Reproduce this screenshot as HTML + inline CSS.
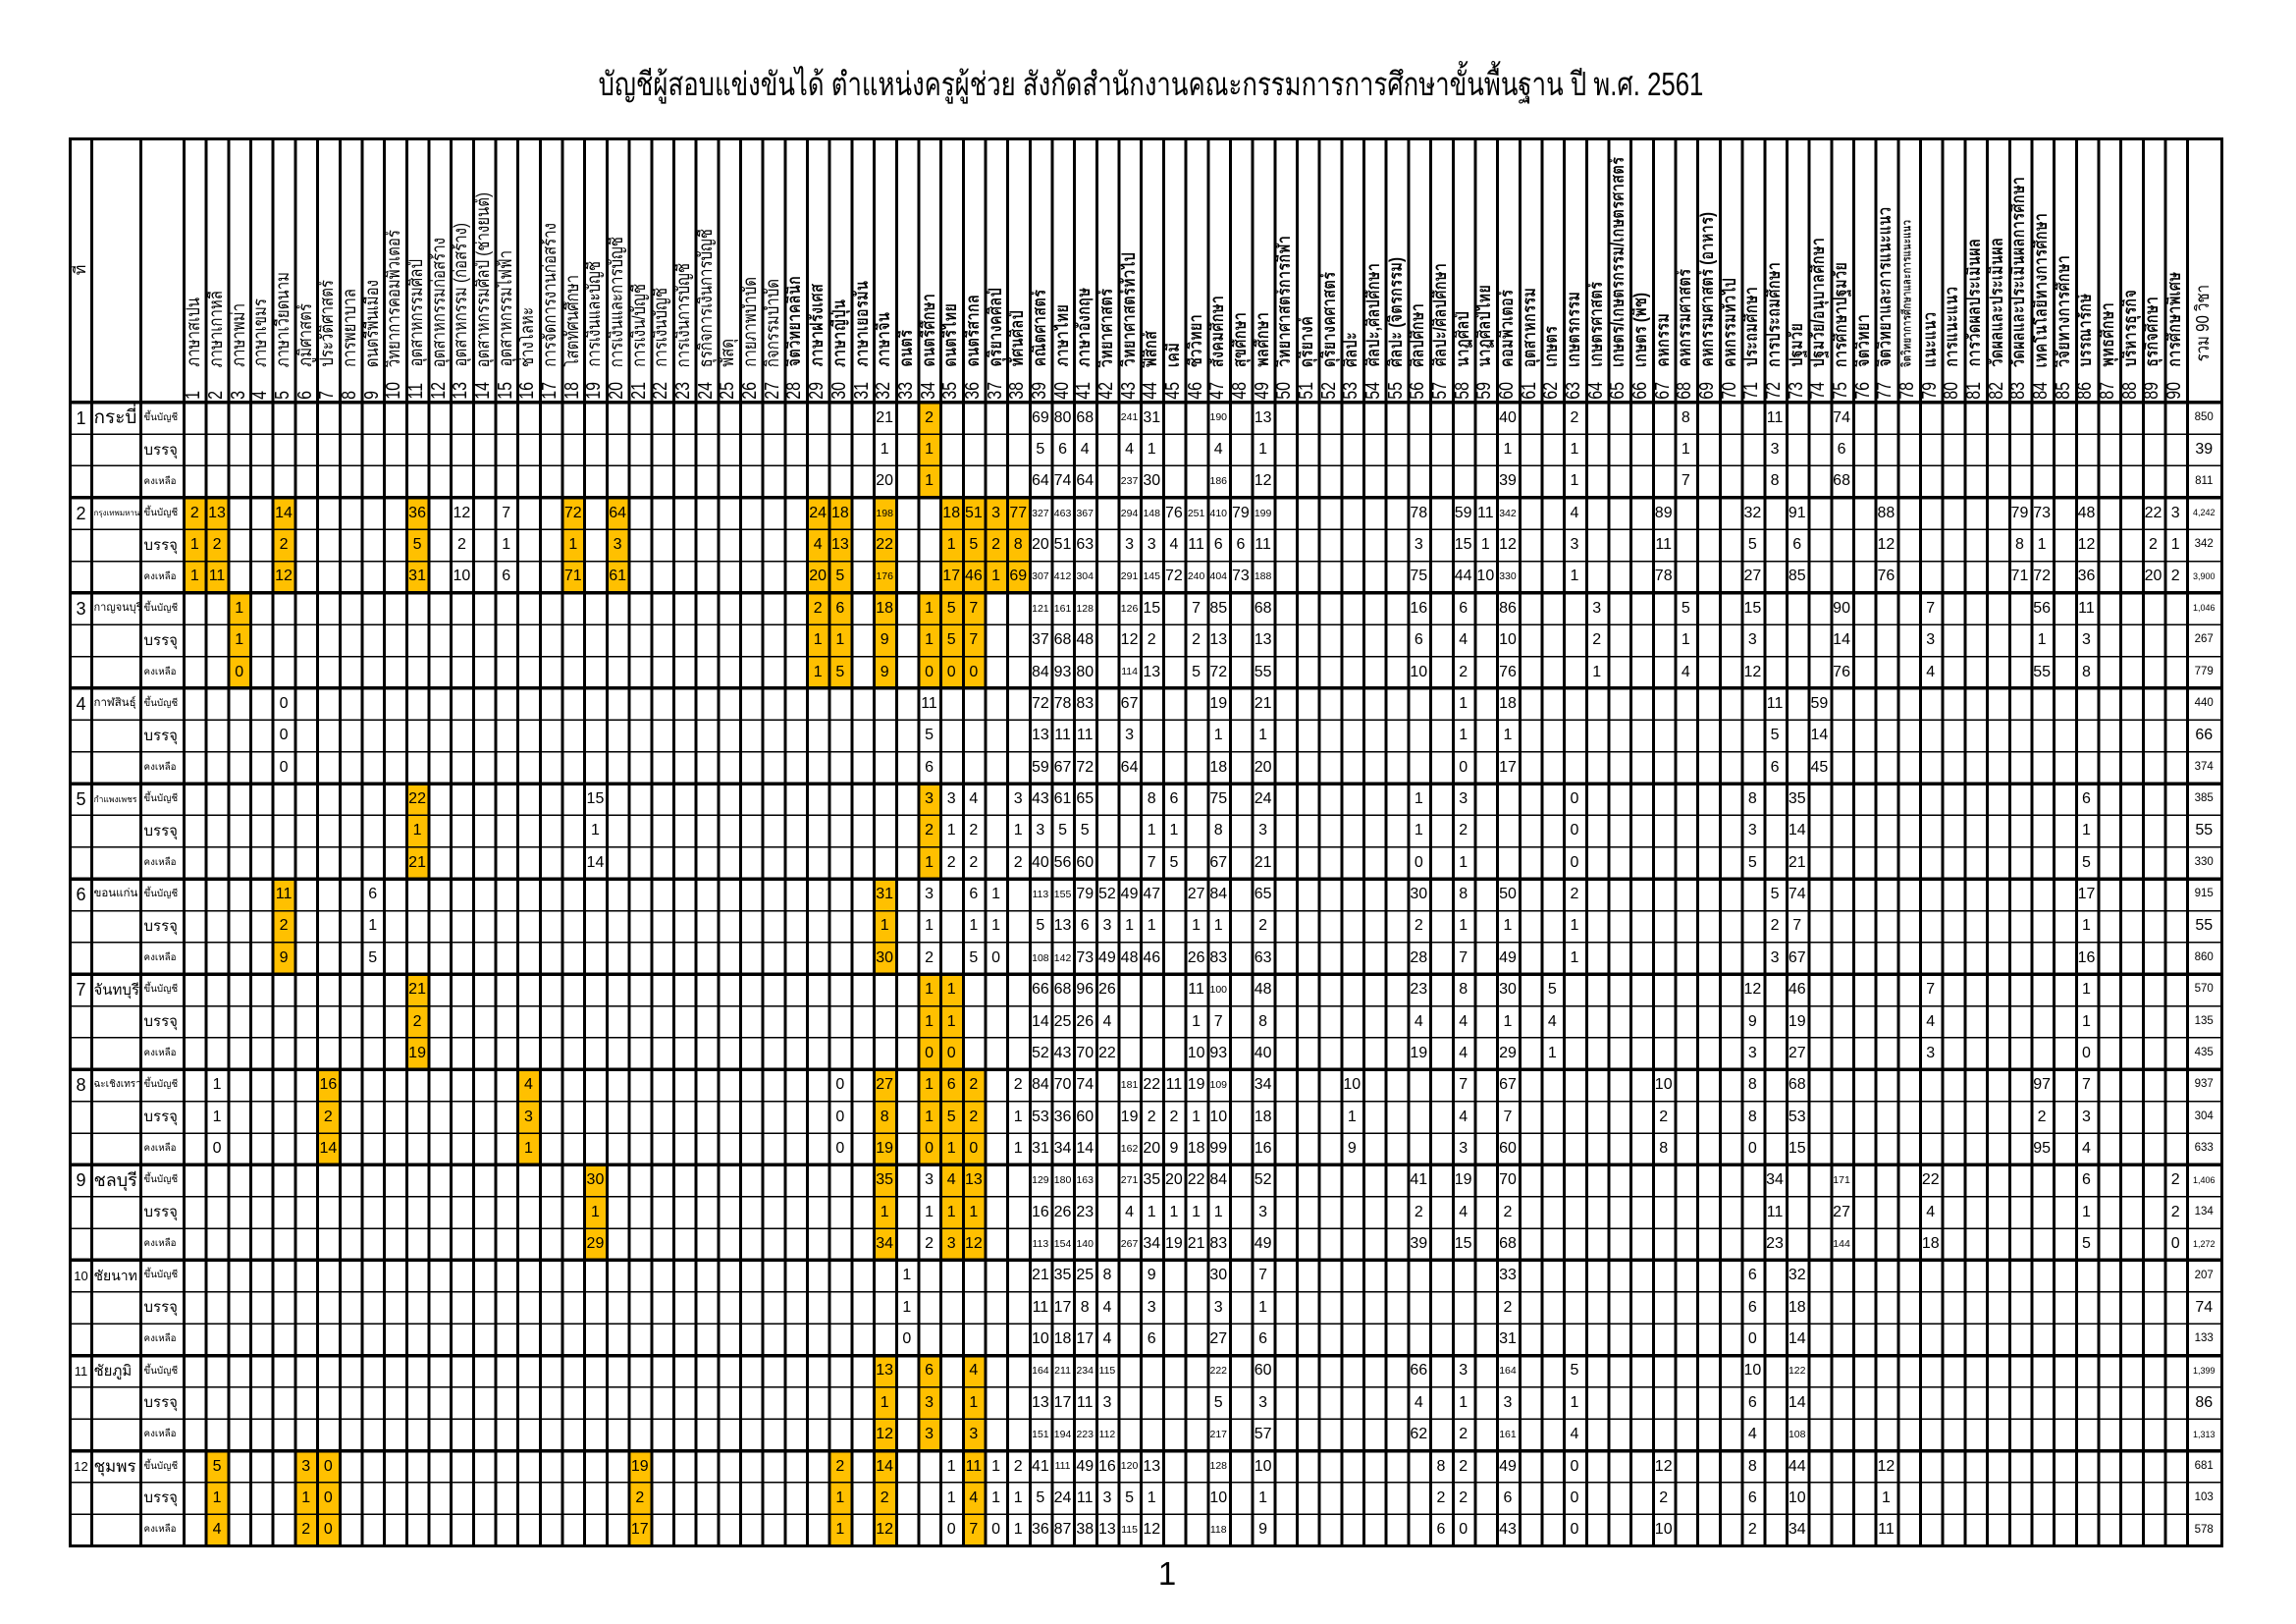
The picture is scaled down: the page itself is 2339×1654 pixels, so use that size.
<!DOCTYPE html>
<html><head><meta charset="utf-8"><style>
html,body{margin:0;padding:0;background:#fff}
body{width:2339px;height:1654px;position:relative;overflow:hidden;font-family:"Liberation Sans","Loma","Garuda","Noto Sans Thai","DejaVu Sans",sans-serif;color:#000}
.title{position:absolute;left:3px;width:2339px;top:66px;text-align:center;font-size:33px;line-height:40px;white-space:nowrap;transform:scaleX(0.78)}
.pg{position:absolute;left:1169px;width:40px;top:1583px;text-align:center;font-size:33px;line-height:40px}
table{position:absolute;left:71.5px;top:141px;width:2191.5px;table-layout:fixed;border-collapse:collapse;border-spacing:0}
td{padding:0;text-align:center;vertical-align:middle;font-size:16px;line-height:1;white-space:nowrap;overflow:hidden}
tr{height:32.36px}
tr.h1{height:236px}
tr.h2{height:32.5px}
.h td{position:relative;vertical-align:bottom}
.h i{position:absolute;left:50%;bottom:3px;writing-mode:vertical-rl;transform:translateX(-50%) rotate(180deg) scaleX(1.25);font-style:normal;font-size:15px;line-height:16px;font-weight:bold;white-space:nowrap}
.h i.l{font-weight:normal}
.h2 i{font-weight:normal!important;bottom:3px;font-size:16px!important}
.h i.c0{top:50%;bottom:auto;transform:translate(-50%,-50%) rotate(180deg);font-weight:normal;font-size:16px}
.h i.sm{font-size:10px}
td:last-child{font-size:11.5px}
td.b{font-size:16px}
td.t{font-size:9px}
.y,.ys{background:#ffc000}
.s,.ys{font-size:10.5px}
.n{font-size:18px}
.n2{font-size:13px}
.p{text-align:left;padding-left:2px;font-size:19px}
.k{text-align:left;padding-left:3px;font-size:9.8px}
.k2{font-size:15px}
.g{position:absolute;background:#000}
</style></head><body>
<div class="title">บัญชีผู้สอบแข่งขันได้ ตำแหน่งครูผู้ช่วย สังกัดสำนักงานคณะกรรมการการศึกษาขั้นพื้นฐาน ปี พ.ศ. 2561</div>
<table>
<colgroup><col style="width:22px"><col style="width:50px"><col style="width:43.5px"><col span="90" style="width:22.68px"><col style="width:34.8px"></colgroup>
<tr class="h h1"><td rowspan=2><i class=c0>ที่</i></td><td rowspan=2></td><td rowspan=2></td>
<td><i class=l>ภาษาสเปน</i><td><i class=l>ภาษาเกาหลี</i><td><i class=l>ภาษาพม่า</i><td><i class=l>ภาษาเขมร</i><td><i class=l>ภาษาเวียดนาม</i><td><i class=l>ภูมิศาสตร์</i><td><i class=l>ประวัติศาสตร์</i><td><i class=l>การพยาบาล</i><td><i class=l>ดนตรีพื้นเมือง</i><td><i class=l>วิทยาการคอมพิวเตอร์</i><td><i class=l>อุตสาหกรรมศิลป์</i><td><i class=l>อุตสาหกรรมก่อสร้าง</i><td><i class=l>อุตสาหกรรม (ก่อสร้าง)</i><td><i class=l>อุตสาหกรรมศิลป์ (ช่างยนต์)</i><td><i class=l>อุตสาหกรรมไฟฟ้า</i><td><i class=l>ช่างโลหะ</i><td><i class=l>การจัดการงานก่อสร้าง</i><td><i class=l>โสตทัศนศึกษา</i><td><i class=l>การเงินและบัญชี</i><td><i class=l>การเงินและการบัญชี</i><td><i class=l>การเงิน/บัญชี</i><td><i class=l>การเงินบัญชี</i><td><i class=l>การเงินการบัญชี</i><td><i class=l>ธุรกิจการเงินการบัญชี</i><td><i class=l>พัสดุ</i><td><i class=l>กายภาพบำบัด</i><td><i class=l>กิจกรรมบำบัด</i><td><i>จิตวิทยาคลินิก</i><td><i>ภาษาฝรั่งเศส</i><td><i>ภาษาญี่ปุ่น</i><td><i>ภาษาเยอรมัน</i><td><i>ภาษาจีน</i><td><i>ดนตรี</i><td><i>ดนตรีศึกษา</i><td><i>ดนตรีไทย</i><td><i>ดนตรีสากล</i><td><i>ดุริยางคศิลป์</i><td><i>ทัศนศิลป์</i><td><i>คณิตศาสตร์</i><td><i>ภาษาไทย</i><td><i>ภาษาอังกฤษ</i><td><i>วิทยาศาสตร์</i><td><i>วิทยาศาสตร์ทั่วไป</i><td><i>ฟิสิกส์</i><td><i>เคมี</i><td><i>ชีววิทยา</i><td><i>สังคมศึกษา</i><td><i>สุขศึกษา</i><td><i>พลศึกษา</i><td><i>วิทยาศาสตร์การกีฬา</i><td><i>ดุริยางค์</i><td><i>ดุริยางคศาสตร์</i><td><i>ศิลปะ</i><td><i>ศิลปะ,ศิลปศึกษา</i><td><i>ศิลปะ (จิตรกรรม)</i><td><i>ศิลปศึกษา</i><td><i>ศิลปะ/ศิลปศึกษา</i><td><i>นาฏศิลป์</i><td><i>นาฏศิลป์ไทย</i><td><i>คอมพิวเตอร์</i><td><i>อุตสาหกรรม</i><td><i>เกษตร</i><td><i>เกษตรกรรม</i><td><i>เกษตรศาสตร์</i><td><i>เกษตร/เกษตรกรรม/เกษตรศาสตร์</i><td><i>เกษตร (พืช)</i><td><i>คหกรรม</i><td><i>คหกรรมศาสตร์</i><td><i>คหกรรมศาสตร์ (อาหาร)</i><td><i>คหกรรมทั่วไป</i><td><i>ประถมศึกษา</i><td><i>การประถมศึกษา</i><td><i>ปฐมวัย</i><td><i>ปฐมวัย/อนุบาลศึกษา</i><td><i>การศึกษาปฐมวัย</i><td><i>จิตวิทยา</i><td><i>จิตวิทยาและการแนะแนว</i><td><i class=sm>จิตวิทยาการศึกษาและการแนะแนว</i><td><i>แนะแนว</i><td><i>การแนะแนว</i><td><i>การวัดผลประเมินผล</i><td><i>วัดผลและประเมินผล</i><td><i>วัดผลและประเมินผลการศึกษา</i><td><i>เทคโนโลยีทางการศึกษา</i><td><i>วิจัยทางการศึกษา</i><td><i>บรรณารักษ์</i><td><i>พุทธศึกษา</i><td><i>บริหารธุรกิจ</i><td><i>ธุรกิจศึกษา</i><td><i>การศึกษาพิเศษ</i><td><i class=l style="bottom:9px">รวม 90 วิชา</i></td></tr>
<tr class="h h2"><td><i>1</i><td><i>2</i><td><i>3</i><td><i>4</i><td><i>5</i><td><i>6</i><td><i>7</i><td><i>8</i><td><i>9</i><td><i>10</i><td><i>11</i><td><i>12</i><td><i>13</i><td><i>14</i><td><i>15</i><td><i>16</i><td><i>17</i><td><i>18</i><td><i>19</i><td><i>20</i><td><i>21</i><td><i>22</i><td><i>23</i><td><i>24</i><td><i>25</i><td><i>26</i><td><i>27</i><td><i>28</i><td><i>29</i><td><i>30</i><td><i>31</i><td><i>32</i><td><i>33</i><td><i>34</i><td><i>35</i><td><i>36</i><td><i>37</i><td><i>38</i><td><i>39</i><td><i>40</i><td><i>41</i><td><i>42</i><td><i>43</i><td><i>44</i><td><i>45</i><td><i>46</i><td><i>47</i><td><i>48</i><td><i>49</i><td><i>50</i><td><i>51</i><td><i>52</i><td><i>53</i><td><i>54</i><td><i>55</i><td><i>56</i><td><i>57</i><td><i>58</i><td><i>59</i><td><i>60</i><td><i>61</i><td><i>62</i><td><i>63</i><td><i>64</i><td><i>65</i><td><i>66</i><td><i>67</i><td><i>68</i><td><i>69</i><td><i>70</i><td><i>71</i><td><i>72</i><td><i>73</i><td><i>74</i><td><i>75</i><td><i>76</i><td><i>77</i><td><i>78</i><td><i>79</i><td><i>80</i><td><i>81</i><td><i>82</i><td><i>83</i><td><i>84</i><td><i>85</i><td><i>86</i><td><i>87</i><td><i>88</i><td><i>89</i><td><i>90</i><td></td></tr>

<tr><td class=n>1<td class=p style="font-size:19px">กระบี่<td class=k>ขึ้นบัญชี<td colspan=31><td>21<td><td class=y>2<td colspan=4><td>69<td>80<td>68<td><td class=s>241<td>31<td colspan=2><td class=s>190<td><td>13<td colspan=10><td>40<td colspan=2><td>2<td colspan=4><td>8<td colspan=3><td>11<td colspan=2><td>74<td colspan=15><td>850</tr>
<tr><td><td><td class="k k2">บรรจุ<td colspan=31><td>1<td><td class=y>1<td colspan=4><td>5<td>6<td>4<td><td>4<td>1<td colspan=2><td>4<td><td>1<td colspan=10><td>1<td colspan=2><td>1<td colspan=4><td>1<td colspan=3><td>3<td colspan=2><td>6<td colspan=15><td class=b>39</tr>
<tr><td><td><td class=k>คงเหลือ<td colspan=31><td>20<td><td class=y>1<td colspan=4><td>64<td>74<td>64<td><td class=s>237<td>30<td colspan=2><td class=s>186<td><td>12<td colspan=10><td>39<td colspan=2><td>1<td colspan=4><td>7<td colspan=3><td>8<td colspan=2><td>68<td colspan=15><td>811</tr>

<tr><td class=n>2<td class=p style="font-size:8px">กรุงเทพมหานคร<td class=k>ขึ้นบัญชี<td class=y>2<td class=y>13<td colspan=2><td class=y>14<td colspan=5><td class=y>36<td><td>12<td><td>7<td colspan=2><td class=y>72<td><td class=y>64<td colspan=8><td class=y>24<td class=y>18<td><td class=ys>198<td colspan=2><td class=y>18<td class=y>51<td class=y>3<td class=y>77<td class=s>327<td class=s>463<td class=s>367<td><td class=s>294<td class=s>148<td>76<td class=s>251<td class=s>410<td>79<td class=s>199<td colspan=6><td>78<td><td>59<td>11<td class=s>342<td colspan=2><td>4<td colspan=3><td>89<td colspan=3><td>32<td><td>91<td colspan=3><td>88<td colspan=5><td>79<td>73<td><td>48<td colspan=2><td>22<td>3<td class=t>4,242</tr>
<tr><td><td><td class="k k2">บรรจุ<td class=y>1<td class=y>2<td colspan=2><td class=y>2<td colspan=5><td class=y>5<td><td>2<td><td>1<td colspan=2><td class=y>1<td><td class=y>3<td colspan=8><td class=y>4<td class=y>13<td><td class=y>22<td colspan=2><td class=y>1<td class=y>5<td class=y>2<td class=y>8<td>20<td>51<td>63<td><td>3<td>3<td>4<td>11<td>6<td>6<td>11<td colspan=6><td>3<td><td>15<td>1<td>12<td colspan=2><td>3<td colspan=3><td>11<td colspan=3><td>5<td><td>6<td colspan=3><td>12<td colspan=5><td>8<td>1<td><td>12<td colspan=2><td>2<td>1<td>342</tr>
<tr><td><td><td class=k>คงเหลือ<td class=y>1<td class=y>11<td colspan=2><td class=y>12<td colspan=5><td class=y>31<td><td>10<td><td>6<td colspan=2><td class=y>71<td><td class=y>61<td colspan=8><td class=y>20<td class=y>5<td><td class=ys>176<td colspan=2><td class=y>17<td class=y>46<td class=y>1<td class=y>69<td class=s>307<td class=s>412<td class=s>304<td><td class=s>291<td class=s>145<td>72<td class=s>240<td class=s>404<td>73<td class=s>188<td colspan=6><td>75<td><td>44<td>10<td class=s>330<td colspan=2><td>1<td colspan=3><td>78<td colspan=3><td>27<td><td>85<td colspan=3><td>76<td colspan=5><td>71<td>72<td><td>36<td colspan=2><td>20<td>2<td class=t>3,900</tr>

<tr><td class=n>3<td class=p style="font-size:11px">กาญจนบุรี<td class=k>ขึ้นบัญชี<td colspan=2><td class=y>1<td colspan=25><td class=y>2<td class=y>6<td><td class=y>18<td><td class=y>1<td class=y>5<td class=y>7<td colspan=2><td class=s>121<td class=s>161<td class=s>128<td><td class=s>126<td>15<td><td>7<td>85<td><td>68<td colspan=6><td>16<td><td>6<td><td>86<td colspan=3><td>3<td colspan=3><td>5<td colspan=2><td>15<td colspan=3><td>90<td colspan=3><td>7<td colspan=4><td>56<td><td>11<td colspan=4><td class=t>1,046</tr>
<tr><td><td><td class="k k2">บรรจุ<td colspan=2><td class=y>1<td colspan=25><td class=y>1<td class=y>1<td><td class=y>9<td><td class=y>1<td class=y>5<td class=y>7<td colspan=2><td>37<td>68<td>48<td><td>12<td>2<td><td>2<td>13<td><td>13<td colspan=6><td>6<td><td>4<td><td>10<td colspan=3><td>2<td colspan=3><td>1<td colspan=2><td>3<td colspan=3><td>14<td colspan=3><td>3<td colspan=4><td>1<td><td>3<td colspan=4><td>267</tr>
<tr><td><td><td class=k>คงเหลือ<td colspan=2><td class=y>0<td colspan=25><td class=y>1<td class=y>5<td><td class=y>9<td><td class=y>0<td class=y>0<td class=y>0<td colspan=2><td>84<td>93<td>80<td><td class=s>114<td>13<td><td>5<td>72<td><td>55<td colspan=6><td>10<td><td>2<td><td>76<td colspan=3><td>1<td colspan=3><td>4<td colspan=2><td>12<td colspan=3><td>76<td colspan=3><td>4<td colspan=4><td>55<td><td>8<td colspan=4><td>779</tr>

<tr><td class=n>4<td class=p style="font-size:11.5px">กาฬสินธุ์<td class=k>ขึ้นบัญชี<td colspan=4><td>0<td colspan=28><td>11<td colspan=4><td>72<td>78<td>83<td><td>67<td colspan=3><td>19<td><td>21<td colspan=8><td>1<td><td>18<td colspan=11><td>11<td><td>59<td colspan=16><td>440</tr>
<tr><td><td><td class="k k2">บรรจุ<td colspan=4><td>0<td colspan=28><td>5<td colspan=4><td>13<td>11<td>11<td><td>3<td colspan=3><td>1<td><td>1<td colspan=8><td>1<td><td>1<td colspan=11><td>5<td><td>14<td colspan=16><td class=b>66</tr>
<tr><td><td><td class=k>คงเหลือ<td colspan=4><td>0<td colspan=28><td>6<td colspan=4><td>59<td>67<td>72<td><td>64<td colspan=3><td>18<td><td>20<td colspan=8><td>0<td><td>17<td colspan=11><td>6<td><td>45<td colspan=16><td>374</tr>

<tr><td class=n>5<td class=p style="font-size:8.5px">กำแพงเพชร<td class=k>ขึ้นบัญชี<td colspan=10><td class=y>22<td colspan=7><td>15<td colspan=14><td class=y>3<td>3<td>4<td><td>3<td>43<td>61<td>65<td colspan=2><td>8<td>6<td><td>75<td><td>24<td colspan=6><td>1<td><td>3<td colspan=4><td>0<td colspan=7><td>8<td><td>35<td colspan=12><td>6<td colspan=4><td>385</tr>
<tr><td><td><td class="k k2">บรรจุ<td colspan=10><td class=y>1<td colspan=7><td>1<td colspan=14><td class=y>2<td>1<td>2<td><td>1<td>3<td>5<td>5<td colspan=2><td>1<td>1<td><td>8<td><td>3<td colspan=6><td>1<td><td>2<td colspan=4><td>0<td colspan=7><td>3<td><td>14<td colspan=12><td>1<td colspan=4><td class=b>55</tr>
<tr><td><td><td class=k>คงเหลือ<td colspan=10><td class=y>21<td colspan=7><td>14<td colspan=14><td class=y>1<td>2<td>2<td><td>2<td>40<td>56<td>60<td colspan=2><td>7<td>5<td><td>67<td><td>21<td colspan=6><td>0<td><td>1<td colspan=4><td>0<td colspan=7><td>5<td><td>21<td colspan=12><td>5<td colspan=4><td>330</tr>

<tr><td class=n>6<td class=p style="font-size:11.5px">ขอนแก่น<td class=k>ขึ้นบัญชี<td colspan=4><td class=y>11<td colspan=3><td>6<td colspan=22><td class=y>31<td><td>3<td><td>6<td>1<td><td class=s>113<td class=s>155<td>79<td>52<td>49<td>47<td><td>27<td>84<td><td>65<td colspan=6><td>30<td><td>8<td><td>50<td colspan=2><td>2<td colspan=8><td>5<td>74<td colspan=12><td>17<td colspan=4><td>915</tr>
<tr><td><td><td class="k k2">บรรจุ<td colspan=4><td class=y>2<td colspan=3><td>1<td colspan=22><td class=y>1<td><td>1<td><td>1<td>1<td><td>5<td>13<td>6<td>3<td>1<td>1<td><td>1<td>1<td><td>2<td colspan=6><td>2<td><td>1<td><td>1<td colspan=2><td>1<td colspan=8><td>2<td>7<td colspan=12><td>1<td colspan=4><td class=b>55</tr>
<tr><td><td><td class=k>คงเหลือ<td colspan=4><td class=y>9<td colspan=3><td>5<td colspan=22><td class=y>30<td><td>2<td><td>5<td>0<td><td class=s>108<td class=s>142<td>73<td>49<td>48<td>46<td><td>26<td>83<td><td>63<td colspan=6><td>28<td><td>7<td><td>49<td colspan=2><td>1<td colspan=8><td>3<td>67<td colspan=12><td>16<td colspan=4><td>860</tr>

<tr><td class=n>7<td class=p style="font-size:15px">จันทบุรี<td class=k>ขึ้นบัญชี<td colspan=10><td class=y>21<td colspan=22><td class=y>1<td class=y>1<td colspan=3><td>66<td>68<td>96<td>26<td colspan=3><td>11<td class=s>100<td><td>48<td colspan=6><td>23<td><td>8<td><td>30<td><td>5<td colspan=8><td>12<td><td>46<td colspan=5><td>7<td colspan=6><td>1<td colspan=4><td>570</tr>
<tr><td><td><td class="k k2">บรรจุ<td colspan=10><td class=y>2<td colspan=22><td class=y>1<td class=y>1<td colspan=3><td>14<td>25<td>26<td>4<td colspan=3><td>1<td>7<td><td>8<td colspan=6><td>4<td><td>4<td><td>1<td><td>4<td colspan=8><td>9<td><td>19<td colspan=5><td>4<td colspan=6><td>1<td colspan=4><td>135</tr>
<tr><td><td><td class=k>คงเหลือ<td colspan=10><td class=y>19<td colspan=22><td class=y>0<td class=y>0<td colspan=3><td>52<td>43<td>70<td>22<td colspan=3><td>10<td>93<td><td>40<td colspan=6><td>19<td><td>4<td><td>29<td><td>1<td colspan=8><td>3<td><td>27<td colspan=5><td>3<td colspan=6><td>0<td colspan=4><td>435</tr>

<tr><td class=n>8<td class=p style="font-size:10px">ฉะเชิงเทรา<td class=k>ขึ้นบัญชี<td><td>1<td colspan=4><td class=y>16<td colspan=8><td class=y>4<td colspan=13><td>0<td><td class=y>27<td><td class=y>1<td class=y>6<td class=y>2<td><td>2<td>84<td>70<td>74<td><td class=s>181<td>22<td>11<td>19<td class=s>109<td><td>34<td colspan=3><td>10<td colspan=4><td>7<td><td>67<td colspan=6><td>10<td colspan=3><td>8<td><td>68<td colspan=10><td>97<td><td>7<td colspan=4><td>937</tr>
<tr><td><td><td class="k k2">บรรจุ<td><td>1<td colspan=4><td class=y>2<td colspan=8><td class=y>3<td colspan=13><td>0<td><td class=y>8<td><td class=y>1<td class=y>5<td class=y>2<td><td>1<td>53<td>36<td>60<td><td>19<td>2<td>2<td>1<td>10<td><td>18<td colspan=3><td>1<td colspan=4><td>4<td><td>7<td colspan=6><td>2<td colspan=3><td>8<td><td>53<td colspan=10><td>2<td><td>3<td colspan=4><td>304</tr>
<tr><td><td><td class=k>คงเหลือ<td><td>0<td colspan=4><td class=y>14<td colspan=8><td class=y>1<td colspan=13><td>0<td><td class=y>19<td><td class=y>0<td class=y>1<td class=y>0<td><td>1<td>31<td>34<td>14<td><td class=s>162<td>20<td>9<td>18<td>99<td><td>16<td colspan=3><td>9<td colspan=4><td>3<td><td>60<td colspan=6><td>8<td colspan=3><td>0<td><td>15<td colspan=10><td>95<td><td>4<td colspan=4><td>633</tr>

<tr><td class=n>9<td class=p style="font-size:18px">ชลบุรี<td class=k>ขึ้นบัญชี<td colspan=18><td class=y>30<td colspan=12><td class=y>35<td><td>3<td class=y>4<td class=y>13<td colspan=2><td class=s>129<td class=s>180<td class=s>163<td><td class=s>271<td>35<td>20<td>22<td>84<td><td>52<td colspan=6><td>41<td><td>19<td><td>70<td colspan=11><td>34<td colspan=2><td class=s>171<td colspan=3><td>22<td colspan=6><td>6<td colspan=3><td>2<td class=t>1,406</tr>
<tr><td><td><td class="k k2">บรรจุ<td colspan=18><td class=y>1<td colspan=12><td class=y>1<td><td>1<td class=y>1<td class=y>1<td colspan=2><td>16<td>26<td>23<td><td>4<td>1<td>1<td>1<td>1<td><td>3<td colspan=6><td>2<td><td>4<td><td>2<td colspan=11><td>11<td colspan=2><td>27<td colspan=3><td>4<td colspan=6><td>1<td colspan=3><td>2<td>134</tr>
<tr><td><td><td class=k>คงเหลือ<td colspan=18><td class=y>29<td colspan=12><td class=y>34<td><td>2<td class=y>3<td class=y>12<td colspan=2><td class=s>113<td class=s>154<td class=s>140<td><td class=s>267<td>34<td>19<td>21<td>83<td><td>49<td colspan=6><td>39<td><td>15<td><td>68<td colspan=11><td>23<td colspan=2><td class=s>144<td colspan=3><td>18<td colspan=6><td>5<td colspan=3><td>0<td class=t>1,272</tr>

<tr><td class="n n2">10<td class=p style="font-size:14px">ชัยนาท<td class=k>ขึ้นบัญชี<td colspan=32><td>1<td colspan=5><td>21<td>35<td>25<td>8<td><td>9<td colspan=2><td>30<td><td>7<td colspan=10><td>33<td colspan=10><td>6<td><td>32<td colspan=17><td>207</tr>
<tr><td><td><td class="k k2">บรรจุ<td colspan=32><td>1<td colspan=5><td>11<td>17<td>8<td>4<td><td>3<td colspan=2><td>3<td><td>1<td colspan=10><td>2<td colspan=10><td>6<td><td>18<td colspan=17><td class=b>74</tr>
<tr><td><td><td class=k>คงเหลือ<td colspan=32><td>0<td colspan=5><td>10<td>18<td>17<td>4<td><td>6<td colspan=2><td>27<td><td>6<td colspan=10><td>31<td colspan=10><td>0<td><td>14<td colspan=17><td>133</tr>

<tr><td class="n n2">11<td class=p style="font-size:15px">ชัยภูมิ<td class=k>ขึ้นบัญชี<td colspan=31><td class=y>13<td><td class=y>6<td><td class=y>4<td colspan=2><td class=s>164<td class=s>211<td class=s>234<td class=s>115<td colspan=4><td class=s>222<td><td>60<td colspan=6><td>66<td><td>3<td><td class=s>164<td colspan=2><td>5<td colspan=7><td>10<td><td class=s>122<td colspan=17><td class=t>1,399</tr>
<tr><td><td><td class="k k2">บรรจุ<td colspan=31><td class=y>1<td><td class=y>3<td><td class=y>1<td colspan=2><td>13<td>17<td>11<td>3<td colspan=4><td>5<td><td>3<td colspan=6><td>4<td><td>1<td><td>3<td colspan=2><td>1<td colspan=7><td>6<td><td>14<td colspan=17><td class=b>86</tr>
<tr><td><td><td class=k>คงเหลือ<td colspan=31><td class=y>12<td><td class=y>3<td><td class=y>3<td colspan=2><td class=s>151<td class=s>194<td class=s>223<td class=s>112<td colspan=4><td class=s>217<td><td>57<td colspan=6><td>62<td><td>2<td><td class=s>161<td colspan=2><td>4<td colspan=7><td>4<td><td class=s>108<td colspan=17><td class=t>1,313</tr>

<tr><td class="n n2">12<td class=p style="font-size:17px">ชุมพร<td class=k>ขึ้นบัญชี<td><td class=y>5<td colspan=3><td class=y>3<td class=y>0<td colspan=13><td class=y>19<td colspan=8><td class=y>2<td><td class=y>14<td colspan=2><td>1<td class=y>11<td>1<td>2<td>41<td class=s>111<td>49<td>16<td class=s>120<td>13<td colspan=2><td class=s>128<td><td>10<td colspan=7><td>8<td>2<td><td>49<td colspan=2><td>0<td colspan=3><td>12<td colspan=3><td>8<td><td>44<td colspan=3><td>12<td colspan=13><td>681</tr>
<tr><td><td><td class="k k2">บรรจุ<td><td class=y>1<td colspan=3><td class=y>1<td class=y>0<td colspan=13><td class=y>2<td colspan=8><td class=y>1<td><td class=y>2<td colspan=2><td>1<td class=y>4<td>1<td>1<td>5<td>24<td>11<td>3<td>5<td>1<td colspan=2><td>10<td><td>1<td colspan=7><td>2<td>2<td><td>6<td colspan=2><td>0<td colspan=3><td>2<td colspan=3><td>6<td><td>10<td colspan=3><td>1<td colspan=13><td>103</tr>
<tr><td><td><td class=k>คงเหลือ<td><td class=y>4<td colspan=3><td class=y>2<td class=y>0<td colspan=13><td class=y>17<td colspan=8><td class=y>1<td><td class=y>12<td colspan=2><td>0<td class=y>7<td>0<td>1<td>36<td>87<td>38<td>13<td class=s>115<td>12<td colspan=2><td class=s>118<td><td>9<td colspan=7><td>6<td>0<td><td>43<td colspan=2><td>0<td colspan=3><td>10<td colspan=3><td>2<td><td>34<td colspan=3><td>11<td colspan=13><td>578</tr>
</table>

<div class="g" style="left:70px;top:139.5px;width:2194.5px;height:3px"></div>
<div style="position:absolute;left:185.5px;top:140px;width:2044.2px;height:1436px;background:repeating-linear-gradient(90deg,#000 0px,#000 3px,transparent 3px,transparent 22.68px)"></div>
<div class="g" style="left:70px;top:140px;width:3px;height:1436px"></div>
<div class="g" style="left:92px;top:140px;width:3px;height:1436px"></div>
<div class="g" style="left:142px;top:140px;width:3px;height:1436px"></div>
<div class="g" style="left:2261.5px;top:140px;width:3px;height:1436px"></div>
<div style="position:absolute;left:70px;top:408.75px;width:2194.5px;height:1166.5px;background:repeating-linear-gradient(180deg,#000 0px,#000 1.5px,transparent 1.5px,transparent 32.36px)"></div>
<div style="position:absolute;left:70px;top:407.75px;width:2194.5px;height:1168.5px;background:repeating-linear-gradient(180deg,#000 0px,#000 3.5px,transparent 3.5px,transparent 97.08px)"></div>

<div class="pg">1</div>
</body></html>
